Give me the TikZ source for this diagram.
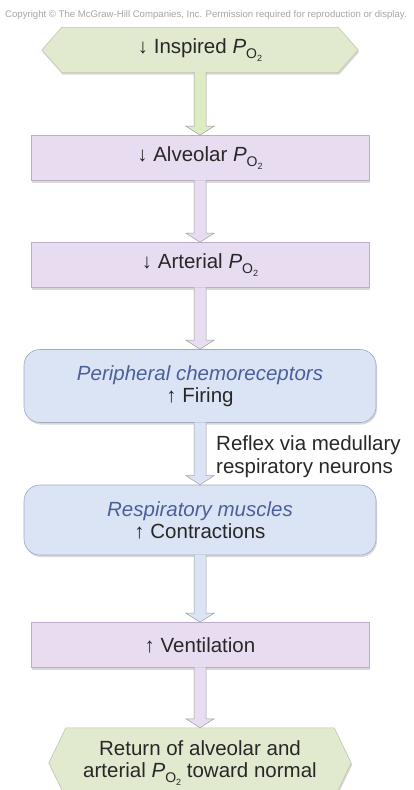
\documentclass[tikz,border=0pt]{standalone}
\usepackage{fontspec}
\setmainfont{Liberation Sans}
\usetikzlibrary{calc,backgrounds,shadows}
\pgfdeclarelayer{bottom}
\pgfsetlayers{bottom,background,main}
\definecolor{grnF}{RGB}{225,233,206}
\definecolor{grnD}{RGB}{190,200,172}
\definecolor{grnA}{RGB}{222,236,195}
\definecolor{lavF}{RGB}{232,221,240}
\definecolor{lavD}{RGB}{188,174,200}
\definecolor{bluF}{RGB}{219,228,244}
\definecolor{bluD}{RGB}{160,170,192}
\definecolor{txt}{RGB}{40,40,40}
\definecolor{itblue}{RGB}{75,95,155}
\newcommand\pot{\textit{P}\raisebox{-0.45ex}{\fontsize{14}{14}\selectfont O\raisebox{-0.35ex}{\fontsize{9}{9}\selectfont 2}}}
\tikzset{
  basefont/.style={font=\fontsize{20.5}{22}\selectfont, text=txt},
  rectbox/.style={basefont, rectangle, draw=lavD, fill=lavF, line width=0.6pt,
    minimum width=338pt, minimum height=45pt, inner sep=0pt,
    drop shadow={shadow xshift=1pt, shadow yshift=-2pt, opacity=0.3, fill=gray}},
  roundbox/.style={basefont, rectangle, rounded corners=16pt, draw=bluD, fill=bluF, line width=0.6pt,
    minimum width=352pt, inner sep=0pt, align=center,
    drop shadow={shadow xshift=1pt, shadow yshift=-2pt, opacity=0.3, fill=gray}},
  hextext/.style={basefont, rectangle, draw=none, inner sep=0pt, align=center},
  hexshape/.style={draw=grnD, fill=grnF, line width=0.6pt,
    drop shadow={shadow xshift=1pt, shadow yshift=-2pt, opacity=0.3, fill=gray}},
  arrowline/.style={draw=gray!75, line width=0.5pt, line join=miter},
}
\newcommand\fatarrow[3]{%
  \draw[arrowline, fill=#3] let \p1=(#1.south), \p2=(#2.north) in
    ({\x1-6pt},{\y1+0.5pt}) -- ({\x1-6pt},{\y2+9pt}) -- ({\x1-14pt},{\y2+9pt}) -- (\x1,\y2)
    -- ({\x1+14pt},{\y2+9pt}) -- ({\x1+6pt},{\y2+9pt}) -- ({\x1+6pt},{\y1+0.5pt});
}
\begin{document}
\begin{tikzpicture}[x=1pt,y=-1pt]
\useasboundingbox (0,0) rectangle (414,790);
\begin{pgfonlayer}{bottom}
  \fill[white] (0,0) rectangle (414,790);
\end{pgfonlayer}

\node[anchor=west, font=\fontsize{9.6}{11}\selectfont, text=gray!70, inner sep=0pt] (copy) at (5,15)
  {Copyright © The McGraw-Hill Companies, Inc. Permission required for reproduction or display.};

% nodes
\node[hextext, minimum width=316pt, minimum height=45pt] (insp) at (200,50) {↓ Inspired \pot};
\node[rectbox] (alv) at (200,158) {↓ Alveolar \pot};
\node[rectbox] (art) at (200,265) {↓ Arterial \pot};
\node[roundbox, minimum height=73pt] (peri) at (200,386)
  {\textcolor{itblue}{\textit{Peripheral chemoreceptors}}\\ ↑ Firing};
\node[roundbox, minimum height=70pt] (resp) at (200,520)
  {\textcolor{itblue}{\textit{Respiratory muscles}}\\ ↑ Contractions};
\node[rectbox] (vent) at (200,645) {↑ Ventilation};
\node[hextext, minimum width=302pt, minimum height=70pt] (ret) at (200,763)
  {Return of alveolar and\\ arterial \pot\ toward normal};

% hexagons behind text
\begin{pgfonlayer}{background}
  \path[hexshape] (insp.west) -- ([xshift=20pt]insp.north west) -- ([xshift=-20pt]insp.north east)
    -- (insp.east) -- ([xshift=-20pt]insp.south east) -- ([xshift=20pt]insp.south west) -- cycle;
  \path[hexshape] (ret.west) -- ([xshift=17pt]ret.north west) -- ([xshift=-17pt]ret.north east)
    -- (ret.east) -- ([xshift=-17pt]ret.south east) -- ([xshift=17pt]ret.south west) -- cycle;
\end{pgfonlayer}

% arrows
\fatarrow{insp}{alv}{grnA}
\fatarrow{alv}{art}{lavF}
\fatarrow{art}{peri}{lavF}
\fatarrow{peri}{resp}{bluF}
\fatarrow{resp}{vent}{bluF}
\fatarrow{vent}{ret}{lavF}

\node[anchor=west, font=\fontsize{20.5}{23}\selectfont, text=txt, align=left, inner sep=0pt] (refl) at (216,457)
  {Reflex via medullary\\ respiratory neurons};
\end{tikzpicture}
\end{document}
